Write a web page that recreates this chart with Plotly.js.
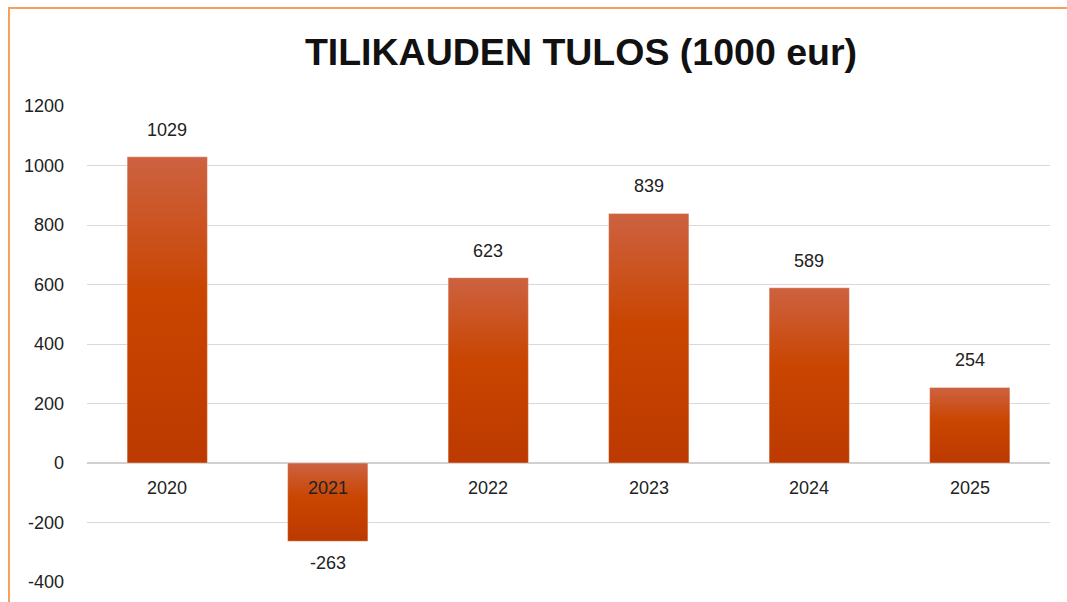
<!DOCTYPE html>
<html>
<head>
<meta charset="utf-8">
<script src="https://cdn.plot.ly/plotly-3.0.1.min.js"></script>
<style>
  html, body { margin: 0; padding: 0; background: #fff; }
  #wrap { position: relative; width: 1067px; height: 602px; overflow: hidden; }
  #chart { width: 1067px; height: 602px; }
  #frame { position: absolute; left: 8px; top: 7px; right: -4px; bottom: -4px;
           border-left: 2px solid #f7a05c; border-top: 2px solid #f7a05c; pointer-events: none; }
</style>
</head>
<body>
<div id="wrap">
  <div id="chart"></div>
  <div id="frame"></div>
</div>
<script>
const chartTitle = "TILIKAUDEN TULOS (1000 eur)";
const years = ["2020", "2021", "2022", "2023", "2024", "2025"];
const results = [1029, -263, 623, 839, 589, 254];
const yTicks = [-400, -200, 0, 200, 400, 600, 800, 1000, 1200];

const labelFont = "Liberation Sans Narrow, Arial Narrow, Liberation Sans, Arial, sans-serif";

const trace = {
  type: "bar",
  x: years,
  y: results,
  marker: { color: "#c84400", line: { width: 1, color: "rgba(255,255,255,0.35)" } },
  hoverinfo: "x+y"
};

const annotations = [];
years.forEach((yr, i) => {
  // category labels near the zero line (index position on category axis)
  annotations.push({
    x: i, y: 0, xref: "x", yref: "y", text: yr, showarrow: false,
    yanchor: "middle", yshift: -25,
    font: { family: labelFont, size: 18, color: "#222" }
  });
  // value labels outside bar end
  const v = results[i];
  annotations.push({
    x: i, y: v, xref: "x", yref: "y", text: String(v), showarrow: false,
    yanchor: "middle", yshift: v >= 0 ? 27 : -22,
    font: { family: labelFont, size: 18, color: "#222" }
  });
});

const layout = {
  width: 1067, height: 602,
  margin: { l: 87, r: 17, t: 106, b: 20 },
  paper_bgcolor: "#ffffff", plot_bgcolor: "#ffffff",
  title: {
    text: chartTitle,
    xref: "container", yref: "container",
    x: 0.5445, xanchor: "center", y: 0.913, yanchor: "middle",
    font: { family: "Liberation Sans, Arial, sans-serif", size: 37.5, color: "#111", weight: "bold" }
  },
  bargap: 0.5,
  showlegend: false,
  xaxis: {
    type: "category", range: [-0.5, 5.5], autorange: false,
    showticklabels: false, showgrid: false, zeroline: false,
    showline: false, ticks: ""
  },
  yaxis: {
    range: [-400, 1200], autorange: false, tickvals: yTicks, ticktext: yTicks.map(String),
    showgrid: true, gridcolor: "#d9d9d9", gridwidth: 1,
    zeroline: true, zerolinecolor: "#d0d0d0", zerolinewidth: 1.5,
    showline: false, ticks: "", ticklabelstandoff: 22,
    tickfont: { family: labelFont, size: 18, color: "#222" }
  },
  annotations: annotations
};

Plotly.newPlot("chart", [trace], layout, { displayModeBar: false, staticPlot: true }).then(gd => {
  const svg = gd.querySelector("svg.main-svg");
  const ns = "http://www.w3.org/2000/svg";
  let defs = svg.querySelector("defs");
  if (!defs) { defs = document.createElementNS(ns, "defs"); svg.insertBefore(defs, svg.firstChild); }
  const grad = document.createElementNS(ns, "linearGradient");
  grad.setAttribute("id", "barGrad");
  grad.setAttribute("x1", "0"); grad.setAttribute("y1", "0");
  grad.setAttribute("x2", "0"); grad.setAttribute("y2", "1");
  [["0%", "#cd6241"], ["45%", "#c94500"], ["100%", "#bc3a00"]].forEach(([o, c]) => {
    const s = document.createElementNS(ns, "stop");
    s.setAttribute("offset", o); s.setAttribute("stop-color", c);
    grad.appendChild(s);
  });
  defs.appendChild(grad);
  gd.querySelectorAll(".barlayer .point path").forEach(p => {
    p.style.fill = "url(#barGrad)";
  });
});
</script>
</body>
</html>
